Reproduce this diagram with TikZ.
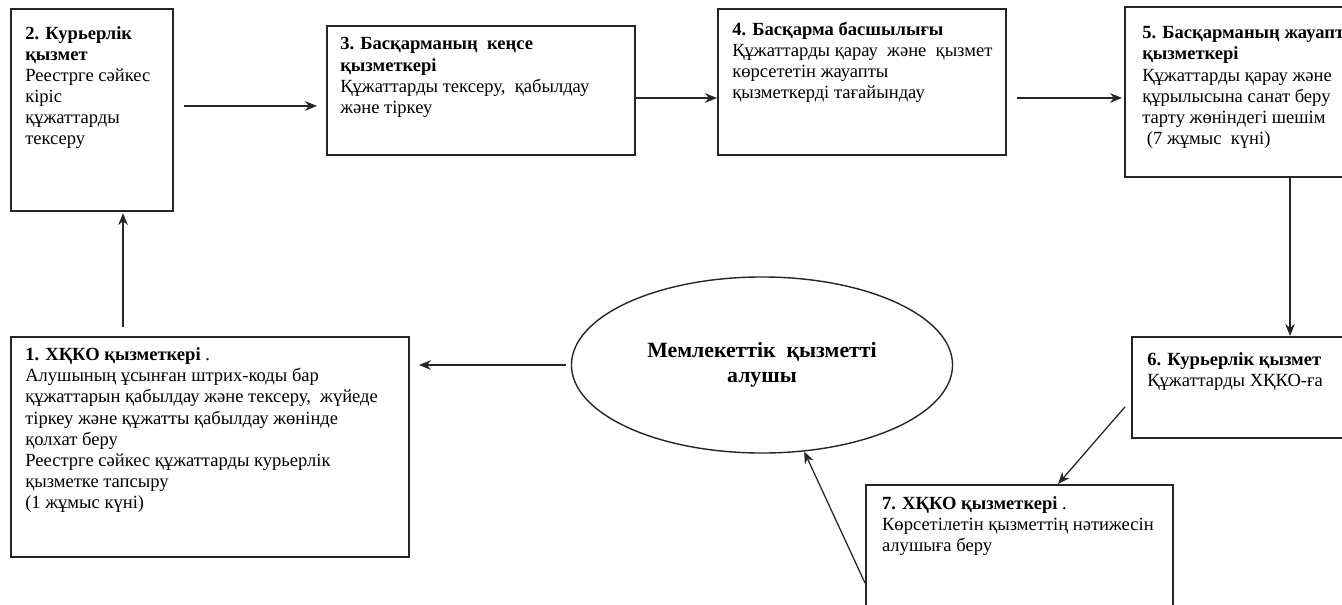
\documentclass[tikz,border=0pt]{standalone}
\usepackage{fontspec}
\setmainfont{Liberation Serif}
\usetikzlibrary{shapes.geometric,arrows.meta}
\begin{document}
\begin{tikzpicture}[x=0.025cm,y=-0.025cm,
		stepbox/.style={draw=black!85,line width=1.3pt,anchor=north west,inner sep=0pt},
		txt/.style={anchor=north west,align=left,inner sep=0pt,font=\fontsize{13.2pt}{15pt}\selectfont},
		arr/.style={draw=black!85,line width=0.9pt,-{Stealth[length=0.3cm,width=0.24cm]}}]
		\useasboundingbox (0,0) rectangle (1342,605);
		\clip (0,0) rectangle (1342,605);
		\node [stepbox,minimum width=4.05cm,minimum height=5.05cm] (b2) at (10,8) {};
		\node [txt] (t2) at ([xshift=0.375cm,yshift=-0.45cm]b2.north west) {\textbf{2. Курьерлік}\\\textbf{қызмет}\\Реестрге сәйкес\\кіріс\\құжаттарды\\тексеру};
		\node [stepbox,minimum width=7.7cm,minimum height=3.225cm] (b3) at (326,25) {};
		\node [txt] (t3) at ([xshift=0.35cm,yshift=-0.31cm]b3.north west) {\textbf{3. Басқарманың\ \ кеңсе}\\\textbf{қызметкері}\\Құжаттарды тексеру,\ \ қабылдау\\және тіркеу};
		\node [stepbox,minimum width=7.2cm,minimum height=3.65cm] (b4) at (717,8) {};
		\node [txt] (t4) at ([xshift=0.375cm,yshift=-0.34cm]b4.north west) {\textbf{4. Басқарма басшылығы}\\Құжаттарды қарау\ \ және\ \ қызмет\\көрсететін жауапты\\қызметкерді тағайындау};
		\node [stepbox,minimum width=6.5cm,minimum height=4.25cm] (b5) at (1124,6) {};
		\node [txt] (t5) at ([xshift=0.45cm,yshift=-0.51cm]b5.north west) {\textbf{5. Басқарманың жауапты}\\\textbf{қызметкері}\\Құжаттарды қарау және\\құрылысына санат беру\\тарту жөніндегі шешім\\\ (7 жұмыс\ \ күні)};
		\node [stepbox,minimum width=9.95cm,minimum height=5.5cm] (b1) at (10,336) {};
		\node [txt] (t1) at ([xshift=0.375cm,yshift=-0.29cm]b1.north west) {\textbf{1. ХҚКО қызметкері} .\\Алушының ұсынған штрих-коды бар\\құжаттарын қабылдау және тексеру,\ \ жүйеде\\тіркеу және құжатты\ қабылдау жөнінде\\қолхат беру\\Реестрге сәйкес\ құжаттарды\ курьерлік\\қызметке тапсыру\\(1 жұмыс күні)};
		\node [ellipse,draw=black!85,line width=1pt,inner sep=0pt,minimum width=9.525cm,minimum height=4.4cm,align=center,font=\fontsize{15.5pt}{17.5pt}\selectfont\bfseries] (ell) at (762,365) {Мемлекеттік\ \ қызметті\\алушы};
		\node [stepbox,minimum width=6.5cm,minimum height=2.525cm] (b6) at (1131,336) {};
		\node [txt] (t6) at ([xshift=0.4cm,yshift=-0.4cm]b6.north west) {\textbf{6. Курьерлік қызмет}\\Құжаттарды ХҚКО-ға};
		\node [stepbox,minimum width=7.675cm,minimum height=4cm] (b7) at (865,484) {};
		\node [txt] (t7) at ([xshift=0.42cm,yshift=-0.3cm]b7.north west) {\textbf{7. ХҚКО қызметкері} .\\Көрсетілетін қызметтің нәтижесін\\алушыға беру};
		\draw [arr,shorten <=0.25cm,shorten >=0.225cm] ([yshift=0.1cm]b2.east) -- ([yshift=0.1cm]b2.east -| b3.west);
		\draw [arr] ([yshift=-0.19cm]b3.east) -- ([yshift=-0.19cm]b3.east -| b4.west);
		\draw [arr,shorten <=0.25cm,shorten >=0.05cm] ([yshift=-0.4cm]b4.east) -- ([yshift=-0.4cm]b4.east -| b5.west);
		\draw [arr] ([xshift=4.15cm]b5.south west) -- ([xshift=4.15cm]b5.south west |- b6.north);
		\draw [arr] ([xshift=-0.15cm,yshift=0.8cm]b6.south west) -- ([xshift=4.825cm]b7.north west);
		\draw [arr] ([yshift=-2.475cm]b7.north west) -- (ell.-64);
		\draw [arr,shorten <=0.125cm,shorten >=0.225cm] (ell.west) -- (ell.west -| b1.east);
		\draw [arr,shorten <=0.225cm,shorten >=0.03cm] ([xshift=2.825cm]b1.north west) -- ([xshift=2.825cm]b1.north west |- b2.south);
	\end{tikzpicture}
\end{document}
